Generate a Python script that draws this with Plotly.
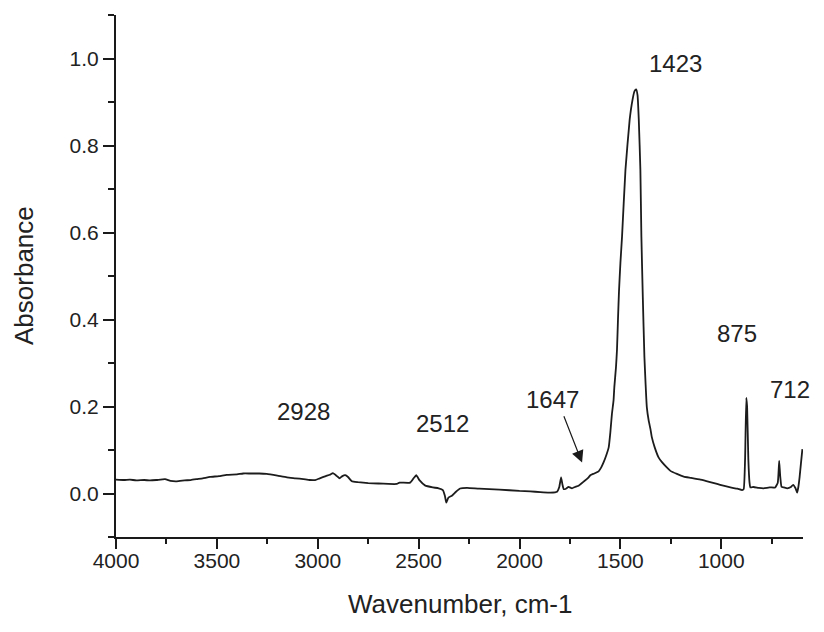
import plotly.graph_objects as go

# Wavenumber (cm-1) and absorbance values
wavenumber = [4000, 3960, 3931, 3900, 3860, 3831, 3800, 3757, 3730, 3699, 3660, 3630, 3600, 3570,
              3534, 3490, 3451, 3400, 3370, 3335, 3290, 3253, 3200, 3153, 3110, 3071, 3040, 3013,
              2990, 2960, 2940, 2925, 2905, 2892, 2878, 2864, 2850, 2831, 2800, 2750, 2700, 2650,
              2608, 2595, 2542, 2525, 2512, 2495, 2467, 2430, 2401, 2380, 2370, 2363, 2355, 2351,
              2335, 2315, 2294, 2260, 2200, 2100, 2000, 1947, 1897, 1847, 1814, 1803, 1794, 1787,
              1781, 1770, 1757, 1740, 1725, 1707, 1680, 1660, 1649, 1630, 1608, 1595, 1583, 1570,
              1558, 1550, 1542, 1534, 1530, 1522, 1517, 1512, 1507, 1500, 1492, 1475, 1454, 1440,
              1430, 1422, 1415, 1409, 1401, 1396, 1389, 1381, 1375, 1369, 1360, 1351, 1344, 1330,
              1311, 1294, 1270, 1252, 1220, 1186, 1150, 1103, 1060, 1021, 990, 955, 920, 897, 889,
              882, 876, 872, 866, 860, 856, 840, 815, 791, 760, 733, 720, 713, 708, 701, 690, 673,
              655, 644, 632, 624, 618, 612, 605, 598]
absorbance = [0.032, 0.031, 0.032, 0.030, 0.031, 0.030, 0.031, 0.033, 0.029, 0.028, 0.030, 0.031,
              0.033, 0.035, 0.038, 0.040, 0.043, 0.044, 0.046, 0.046, 0.046, 0.045, 0.041, 0.037,
              0.035, 0.033, 0.031, 0.031, 0.035, 0.040, 0.043, 0.047, 0.040, 0.035, 0.040, 0.042,
              0.038, 0.028, 0.026, 0.024, 0.023, 0.022, 0.022, 0.025, 0.025, 0.035, 0.042, 0.030,
              0.018, 0.014, 0.012, 0.008, -0.005, -0.021, -0.012, -0.009, -0.005, 0.004, 0.0115,
              0.013, 0.011, 0.009, 0.006, 0.005, 0.003, 0.002, 0.004, 0.015, 0.037, 0.020, 0.010,
              0.011, 0.015, 0.012, 0.015, 0.018, 0.028, 0.036, 0.042, 0.046, 0.051, 0.060, 0.072,
              0.088, 0.106, 0.140, 0.183, 0.214, 0.245, 0.290, 0.330, 0.400, 0.465, 0.530, 0.590,
              0.744, 0.860, 0.905, 0.925, 0.929, 0.915, 0.860, 0.744, 0.590, 0.452, 0.314, 0.250,
              0.198, 0.168, 0.148, 0.129, 0.106, 0.083, 0.072, 0.060, 0.052, 0.045, 0.039, 0.036,
              0.032, 0.027, 0.022, 0.018, 0.014, 0.011, 0.008, 0.010, 0.080, 0.220, 0.200, 0.080,
              0.025, 0.014, 0.015, 0.013, 0.012, 0.014, 0.014, 0.025, 0.075, 0.040, 0.015, 0.014,
              0.012, 0.015, 0.020, 0.012, 0.002, 0.015, 0.037, 0.070, 0.102]

peak_labels = ["2928", "2512", "1647", "1423", "875", "712"]
label_x = [3071, 2381, 1839, 1227, 920, 657]
label_y = [0.188, 0.160, 0.217, 0.989, 0.367, 0.238]

x_ticks = [4000, 3500, 3000, 2500, 2000, 1500, 1000]
y_ticks = [0.0, 0.2, 0.4, 0.6, 0.8, 1.0]

FONT = "Liberation Sans, Arial, sans-serif"
TXT = "#222222"
AX = "#1a1a1a"

fig = go.Figure()
fig.add_trace(go.Scatter(x=wavenumber, y=absorbance, mode="lines",
                         line=dict(color="#1c1c1c", width=1.8, shape="spline", smoothing=0.4),
                         showlegend=False, hoverinfo="skip"))

for t, x, y in zip(peak_labels, label_x, label_y):
    fig.add_annotation(x=x, y=y, xref="x", yref="y", text=t, showarrow=False,
                       font=dict(family=FONT, size=24, color=TXT),
                       xanchor="center", yanchor="middle")

# arrow for 1647
fig.add_annotation(x=1690, y=0.071, ax=1783, ay=0.181, xref="x", yref="y",
                   axref="x", ayref="y", text="", showarrow=True,
                   arrowhead=2, arrowsize=2, arrowwidth=1.2, arrowcolor=AX, standoff=0)

# axis titles
fig.add_annotation(x=0.5, y=0, xref="paper", yref="paper", text="Wavenumber, cm-1",
                   showarrow=False, xanchor="center", yanchor="middle", yshift=-67,
                   font=dict(family=FONT, size=26, color=TXT))
fig.add_annotation(x=0, y=0.5, xref="paper", yref="paper", text="Absorbance",
                   showarrow=False, xanchor="center", yanchor="middle", xshift=-92,
                   textangle=-90, font=dict(family=FONT, size=26, color=TXT))

fig.update_layout(
    width=824, height=632,
    margin=dict(l=116, r=21, t=15, b=95),
    paper_bgcolor="white", plot_bgcolor="white",
    font=dict(family=FONT, color=TXT),
    xaxis=dict(range=[4000, 595], tickvals=x_ticks, ticktext=[str(v) for v in x_ticks],
               showgrid=False, zeroline=False, showline=True, linecolor=AX, linewidth=2,
               ticks="outside", ticklen=10, tickwidth=2, tickcolor=AX,
               tickfont=dict(family=FONT, size=21, color=TXT), ticklabelstandoff=-6,
               minor=dict(dtick=250, tick0=0, ticks="outside", ticklen=5, tickwidth=2,
                          tickcolor=AX, showgrid=False),
               automargin=False),
    yaxis=dict(range=[-0.1, 1.1], tickvals=y_ticks, ticktext=[f"{v:.1f}" for v in y_ticks],
               showgrid=False, zeroline=False, showline=True, linecolor=AX, linewidth=2,
               ticks="outside", ticklen=11, tickwidth=2, tickcolor=AX,
               tickfont=dict(family=FONT, size=21, color=TXT), ticklabelstandoff=0,
               minor=dict(dtick=0.1, tick0=0, ticks="outside", ticklen=6, tickwidth=2,
                          tickcolor=AX, showgrid=False),
               automargin=False),
)

fig.write_html("out.html", config={"displayModeBar": False},
               post_script="document.body.style.margin='0';document.body.style.padding='0';"
                           "document.documentElement.style.overflow='hidden';")
